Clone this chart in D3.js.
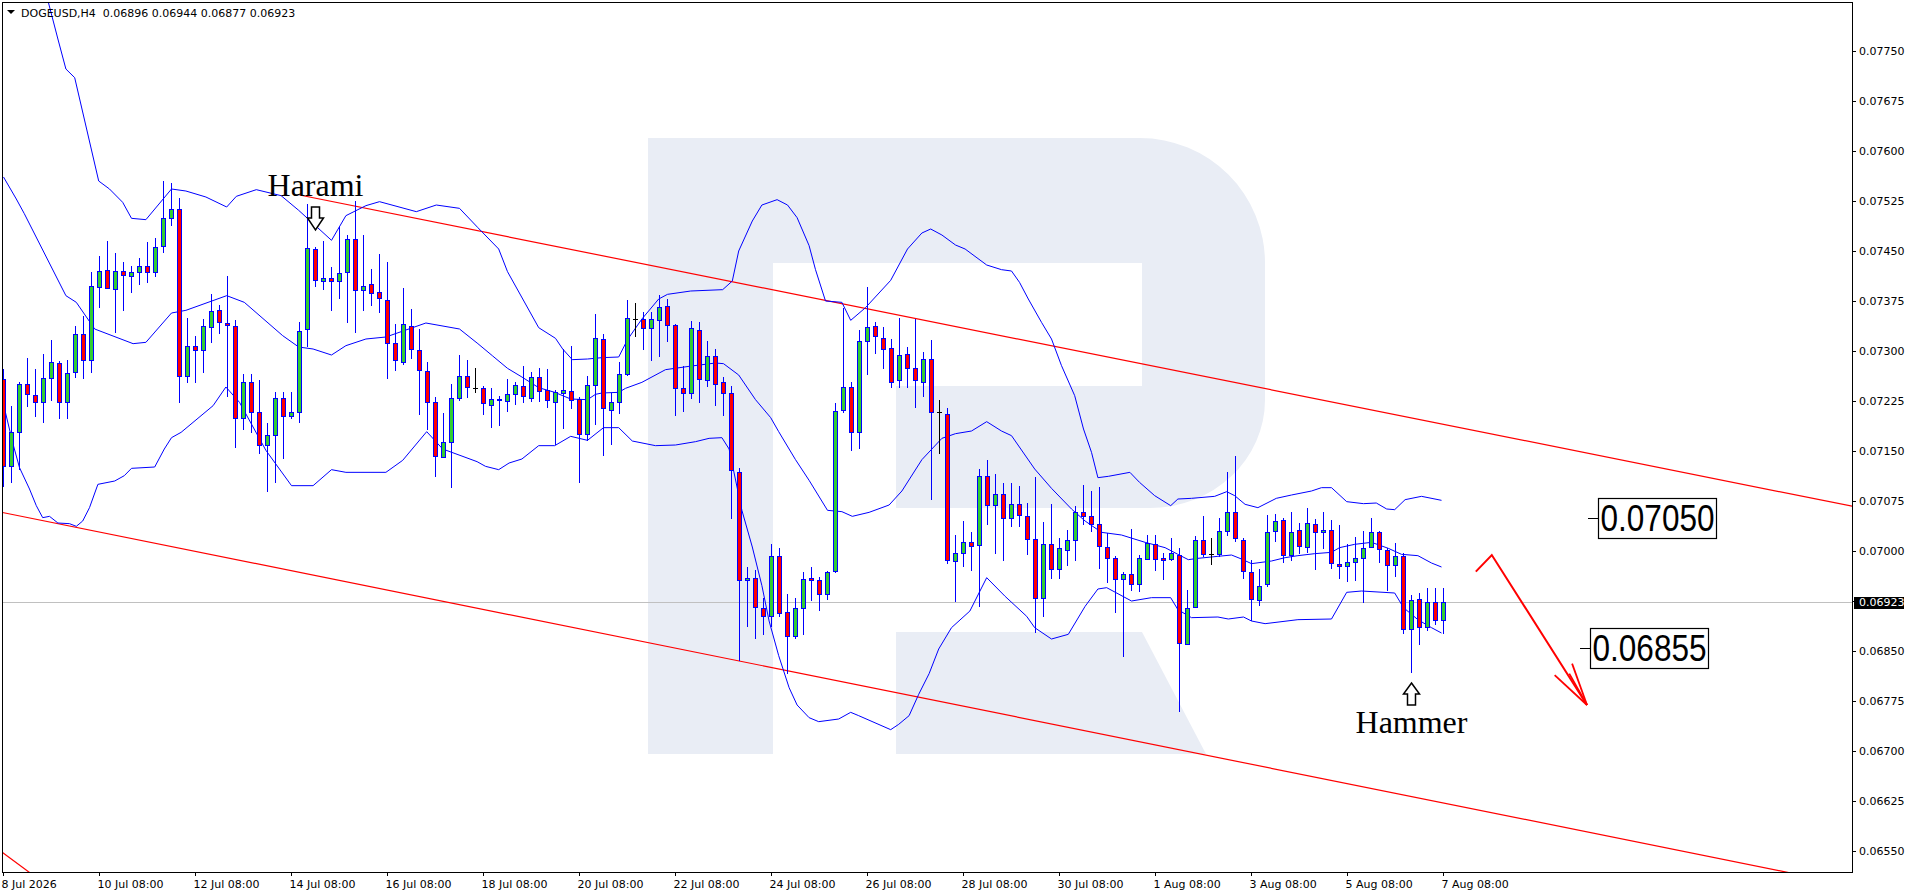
<!DOCTYPE html>
<html><head><meta charset="utf-8">
<script src="https://cdn.jsdelivr.net/npm/d3@7"></script>
<style>
html,body{margin:0;padding:0;background:#fff;overflow:hidden}
svg{display:block}
</style></head><body>
<svg id="c" width="1916" height="896"></svg>
<script>
// ---------- DATA ----------
const symbolHeader = "DOGEUSD,H4  0.06896 0.06944 0.06877 0.06923";
const openP = [
.07258,.07128,.07178,.07250,.07234,.07223,.07259,.07282,.07223,.07268,
.07326,.07286,.07396,.07421,.07393,.07420,.07412,.07418,.07427,.07418,
.07457,.07500,.07513,.07262,.07307,.07301,.07336,.07361,.07342,.07338,
.07200,.07253,.07208,.07159,.07174,.07230,.07203,.07208,.07333,.07453,
.07405,.07409,.07405,.07418,.07468,.07391,.07400,.07388,.07377,.07312,
.07283,.07338,.07301,.07270,.07223,.07141,.07164,.07229,.07263,.07244,
.07244,.07219,.07226,.07225,.07235,.07248,.07229,.07261,.07242,.07224,
.07237,.07240,.07228,.07176,.07249,.07318,.07212,.07224,.07265,.07348,
.07348,.07334,.07347,.07368,.07339,.07244,.07237,.07332,.07257,.07293,
.07253,.07237,.07119,.06957,.06960,.06915,.06903,.06993,.06908,.06872,
.06914,.06960,.06957,.06936,.06970,.07212,.07246,.07178,.07315,.07337,
.07320,.07305,.07256,.07295,.07274,.07253,.07288,.07208,.07206,.06985,
.06997,.07014,.07009,.07112,.07069,.07086,.07050,.07071,.07052,.07018,
.06929,.07010,.06973,.07002,.07017,.07059,.07052,.07041,.07006,.06990,
.06958,.06965,.06950,.06988,.07010,.06989,.06988,.06994,.06860,.06916,
.07016,.06996,.06996,.07030,.07058,.07017,.06969,.06927,.06950,.07030,
.07047,.06994,.07032,.07006,.07041,.07029,.07032,.06980,.06977,.06984,
.06990,.07006,.07029,.07002,.06979,.06992,.06883,.06928,.06886,.06924,
.06896];
const highP = [
.07273,.07218,.07253,.07289,.07273,.07296,.07317,.07285,.07286,.07338,
.07353,.07419,.07442,.07465,.07447,.07433,.07428,.07439,.07463,.07469,
.07555,.07552,.07529,.07349,.07323,.07348,.07386,.07369,.07413,.07347,
.07266,.07266,.07256,.07192,.07239,.07238,.07239,.07343,.07520,.07456,
.07465,.07426,.07486,.07474,.07525,.07474,.07423,.07446,.07433,.07340,
.07394,.07363,.07333,.07283,.07231,.07207,.07251,.07294,.07286,.07274,
.07247,.07245,.07232,.07258,.07253,.07278,.07269,.07274,.07273,.07241,
.07303,.07307,.07231,.07263,.07355,.07325,.07237,.07283,.07377,.07372,
.07358,.07359,.07384,.07378,.07340,.07277,.07345,.07343,.07315,.07303,
.07261,.07248,.07124,.06976,.06972,.06929,.07011,.07005,.06936,.06929,
.06968,.06976,.06961,.06970,.07222,.07364,.07253,.07332,.07396,.07344,
.07336,.07318,.07349,.07306,.07348,.07298,.07317,.07226,.07214,.07024,
.07045,.07028,.07123,.07136,.07115,.07102,.07102,.07098,.07072,.07111,
.07043,.07070,.07019,.07032,.07067,.07099,.07090,.07096,.07027,.06992,
.06969,.07033,.06994,.07024,.07024,.06997,.07020,.07005,.06941,.07022,
.07052,.07020,.07050,.07119,.07143,.07020,.06987,.06973,.07054,.07055,
.07050,.07059,.07042,.07065,.07048,.07058,.07047,.07039,.07010,.07021,
.07030,.07050,.07030,.07005,.07012,.06997,.06934,.06937,.06944,.06944,
.06944];
const lowP = [
.07098,.07103,.07123,.07218,.07203,.07193,.07227,.07199,.07199,.07261,
.07260,.07268,.07366,.07394,.07329,.07361,.07388,.07400,.07403,.07413,
.07448,.07489,.07224,.07254,.07253,.07269,.07314,.07327,.07233,.07156,
.07183,.07179,.07147,.07090,.07103,.07139,.07200,.07193,.07308,.07398,
.07393,.07361,.07380,.07344,.07329,.07362,.07369,.07358,.07260,.07272,
.07280,.07290,.07206,.07183,.07112,.07141,.07096,.07227,.07231,.07238,
.07206,.07186,.07189,.07210,.07220,.07223,.07225,.07225,.07216,.07160,
.07185,.07215,.07104,.07166,.07190,.07144,.07160,.07207,.07264,.07323,
.07303,.07287,.07293,.07315,.07204,.07210,.07229,.07223,.07247,.07219,
.07204,.07049,.06836,.06887,.06870,.06875,.06887,.06903,.06817,.06869,
.06875,.06927,.06911,.06928,.06969,.07208,.07152,.07155,.07266,.07297,
.07274,.07246,.07246,.07246,.07216,.07232,.07078,.07147,.06982,.06925,
.06978,.06971,.06918,.07040,.06997,.06987,.07038,.07037,.06995,.06878,
.06903,.06959,.06959,.06979,.06987,.07040,.07030,.06975,.06953,.06908,
.06842,.06941,.06940,.06988,.06971,.06958,.06987,.06760,.06860,.06916,
.06993,.06980,.06993,.07024,.07015,.06960,.06897,.06919,.06948,.07015,
.06984,.06987,.06997,.06999,.06973,.07005,.06975,.06959,.06955,.06957,
.06923,.07006,.06984,.06942,.06963,.06877,.06819,.06860,.06882,.06890,
.06877];
const closeP = [
.07128,.07178,.07250,.07235,.07223,.07259,.07283,.07223,.07267,.07326,
.07286,.07397,.07420,.07394,.07420,.07414,.07418,.07428,.07418,.07456,
.07500,.07513,.07262,.07308,.07301,.07337,.07360,.07343,.07339,.07199,
.07253,.07208,.07159,.07174,.07230,.07203,.07208,.07330,.07454,.07406,
.07409,.07405,.07417,.07468,.07391,.07398,.07387,.07379,.07312,.07286,
.07340,.07303,.07272,.07223,.07143,.07164,.07229,.07263,.07246,.07244,
.07222,.07228,.07228,.07235,.07249,.07232,.07261,.07240,.07226,.07238,
.07241,.07227,.07175,.07249,.07320,.07214,.07224,.07265,.07349,.07348,
.07334,.07348,.07366,.07339,.07244,.07237,.07334,.07258,.07292,.07251,
.07237,.07121,.06957,.06960,.06916,.06903,.06992,.06907,.06872,.06914,
.06958,.06957,.06936,.06969,.07210,.07246,.07178,.07315,.07336,.07322,
.07303,.07254,.07294,.07275,.07256,.07288,.07208,.07208,.06986,.06997,
.07014,.07007,.07112,.07069,.07086,.07050,.07071,.07054,.07018,.06930,
.07010,.06973,.07004,.07017,.07059,.07052,.07040,.07007,.06990,.06958,
.06965,.06950,.06989,.07012,.06988,.06987,.06997,.06862,.06914,.07016,
.06996,.06996,.07030,.07058,.07019,.06970,.06928,.06948,.07028,.07045,
.06994,.07029,.07007,.07042,.07029,.07032,.06982,.06978,.06984,.06990,
.07005,.07029,.07003,.06979,.06992,.06883,.06927,.06886,.06923,.06897,
.06923];

const xTickIdx = [0,12,24,36,48,60,72,84,96,108,120,132,144,156,168,180];
const xTickLabels = ["8 Jul 2026","10 Jul 08:00","12 Jul 08:00","14 Jul 08:00","16 Jul 08:00","18 Jul 08:00",
  "20 Jul 08:00","22 Jul 08:00","24 Jul 08:00","26 Jul 08:00","28 Jul 08:00","30 Jul 08:00",
  "1 Aug 08:00","3 Aug 08:00","5 Aug 08:00","7 Aug 08:00"];
const yTicks = [0.06550,0.06625,0.06700,0.06775,0.06850,0.06925,0.07000,0.07075,0.07150,
  0.07225,0.07300,0.07375,0.07450,0.07525,0.07600,0.07675,0.07750];
const lastPrice = 0.06923;

// Bollinger bands: [bar index, price]
const bbUpper = [[0,0.0790],[2,0.0791],[4,0.0788],[5.5,0.07828],[6.8,0.07768],[7.8,0.07723],[8.9,0.07710],
[11.9,0.07555],[13.25,0.07543],[14.9,0.07523],[16,0.07499],[17.8,0.07497],[21,0.07543],[22.8,0.07540],
[25.3,0.07531],[27.9,0.07516],[29.1,0.07532],[31.6,0.07542],[34.7,0.07533],[36.9,0.07511],[41,0.07466],
[42.8,0.07503],[45.3,0.07518],[47,0.07524],[51.6,0.07509],[54.1,0.07519],[57,0.07514],[59.3,0.07485],
[61.9,0.07453],[63,0.07419],[66.9,0.07335],[69,0.07319],[69.9,0.07303],[71.1,0.07287],[73,0.07288],
[74.8,0.07290],[76.9,0.07291],[78,0.07317],[79.8,0.07348],[81.9,0.07378],[83,0.07385],[85.9,0.07390],
[89.9,0.07392],[91.1,0.07405],[91.9,0.07450],[93.6,0.07495],[94.8,0.07519],[96.7,0.07527],[98,0.07519],
[99.2,0.07500],[100.7,0.07458],[101.5,0.07422],[102.75,0.07375],[104.8,0.07373],[105.9,0.07346],
[107.75,0.07365],[110.9,0.07406],[113,0.07453],[114.8,0.07477],[115.9,0.07483],[117.3,0.07474],
[119,0.07459],[120.2,0.07453],[122.9,0.07429],[124.75,0.07422],[126,0.07420],[127,0.07403],[128.1,0.07378],
[129.75,0.07343],[131,0.07318],[132.25,0.07278],[133.9,0.07233],[135,0.07183],[136,0.07148],[136.8,0.07110],
[138.1,0.07112],[140.8,0.07118],[142,0.07103],[143.9,0.07083],[145.9,0.07068],[146.8,0.07078],[148.5,0.07079],
[151.4,0.07082],[152.9,0.07089],[153.9,0.07083],[155.2,0.07070],[156.8,0.07065],[159.1,0.07079],[161,0.07084],
[163.5,0.07090],[164.75,0.07095],[166,0.07095],[167.9,0.07074],[170,0.07071],[171.6,0.07072],[172.9,0.07063],
[173.9,0.07062],[175.2,0.07077],[177.25,0.07082],[179.75,0.07076]];
const bbMiddle = [[0,0.07561],[1.6,0.07528],[2.6,0.07506],[7.8,0.07383],[9.1,0.07373],[11.4,0.07333],[16.2,0.07311],
[17.8,0.07313],[21,0.07357],[22.8,0.07361],[27.9,0.07383],[30.1,0.07373],[34.9,0.07323],[36.9,0.07306],
[38.7,0.07303],[41,0.07294],[42.8,0.07308],[45.3,0.07318],[47.8,0.07321],[52.8,0.07342],[57,0.07333],
[59.3,0.07311],[61.1,0.07293],[63,0.07274],[64.8,0.07261],[66.9,0.07245],[68.9,0.07238],[70.9,0.07228],
[73,0.07227],[74,0.07235],[74.8,0.07237],[76.9,0.07238],[77.75,0.07244],[79.8,0.07253],[82.75,0.07272],
[85.7,0.07277],[89,0.07282],[90,0.07281],[91.9,0.07264],[94,0.07227],[95.9,0.07200],[96.9,0.07179],
[99,0.07137],[100.7,0.07106],[103,0.07061],[104.8,0.07059],[106.1,0.07052],[108.2,0.07058],[110.7,0.07069],
[112.3,0.07090],[114.8,0.07137],[117.3,0.07169],[119,0.07176],[121,0.07180],[122.9,0.07194],[124.75,0.07180],
[126,0.07173],[128.9,0.07123],[131,0.07094],[133.5,0.07063],[135.2,0.07045],[137.25,0.07028],[139.75,0.07024],
[142.7,0.07013],[145.2,0.07005],[146.8,0.06995],[148.1,0.06987],[149.3,0.06989],[151.8,0.06992],[153.5,0.06994],
[154.75,0.06988],[156,0.06981],[158.5,0.06985],[160.2,0.06990],[161.8,0.06993],[163.9,0.06996],[166,0.06998],
[167,0.07005],[168.9,0.07010],[171,0.07013],[173.1,0.07004],[174.75,0.06995],[176.8,0.06993],[178.5,0.06982],
[179.75,0.06976]];
const bbLower = [[0,0.0722],[1.2,0.07160],[2,0.07125],[3.25,0.07093],[4.1,0.07068],[4.9,0.07050],[5.75,0.07052],
[6.8,0.07042],[8.25,0.07041],[9.1,0.07037],[9.9,0.07045],[10.75,0.07065],[11.8,0.07100],[13.9,0.07105],
[15.1,0.07113],[16,0.07124],[18.9,0.07126],[20.1,0.07153],[21,0.07170],[22.2,0.07178],[26.2,0.07218],
[27.8,0.07246],[29.5,0.07223],[32.8,0.07151],[36,0.07098],[38.7,0.07098],[41,0.07122],[42.8,0.07118],
[47.8,0.07118],[49.9,0.07136],[52.9,0.07179],[54.9,0.07153],[59.2,0.07134],[60.25,0.07127],[61.9,0.07122],
[63.2,0.07132],[64.8,0.07138],[66.9,0.07158],[68.9,0.07158],[70.9,0.07172],[73,0.07166],[75,0.07185],
[76.9,0.07185],[78.6,0.07165],[81.5,0.07158],[84,0.07159],[86.5,0.07164],[88.2,0.07169],[89.8,0.07170],
[90.7,0.07153],[92.3,0.07061],[93.6,0.07006],[94.8,0.06948],[95.7,0.06895],[96.9,0.06843],[98.2,0.06795],
[99.2,0.06769],[100.7,0.06750],[101.9,0.06744],[104.4,0.06748],[105.9,0.06758],[106.9,0.06753],[110.9,0.06732],
[111.9,0.06740],[113.2,0.06753],[114.4,0.06785],[115.7,0.06816],[116.9,0.06853],[118.5,0.06885],[120.8,0.06910],
[122.9,0.06960],[125.2,0.06932],[127.9,0.06902],[128.9,0.06885],[131,0.06868],[133.1,0.06875],[135.2,0.06917],
[136.8,0.06943],[137.9,0.06945],[141,0.06925],[143.5,0.06930],[145.9,0.06930],[146.8,0.06912],[148.5,0.06900],
[151.8,0.06901],[153.1,0.06898],[155,0.06901],[156,0.06895],[157.7,0.06891],[161.8,0.06897],[166,0.06898],
[167.9,0.06938],[169.75,0.06940],[173.9,0.06937],[175,0.06915],[176.8,0.06897],[178.5,0.06885],[179.75,0.06877]];

// Trend lines (two anchors each: [bar index, price])
const channelUpper = [[37,0.07534],[180,0.07190]];
const channelLower = [[0,0.070575],[180,0.06622]];
const steepLine = [[-0.5,0.06551],[3,0.06520]];
// Forecast arrow
const forecastArrow = [[184.1,0.06969],[186.1,0.06994],[198,0.06769]];
const levelLabels = [0.07050, 0.06855];
const patternNotes = [{text:"Harami", bar:39, dir:"down"},{text:"Hammer", bar:176, dir:"up"}];

// ---------- DRAW ----------
const L=2, T=2, R=1852, B=872;
const svg = d3.select('#c');
const x = d3.scaleLinear().domain([0,180]).range([3,1443]);
const y = d3.scaleLinear().domain([0.0655,0.0775]).range([851,51]);
const FONT = '"DejaVu Sans", Verdana, sans-serif';

svg.append('rect').attr('width',1916).attr('height',896).attr('fill','#fff');
svg.append('defs').append('clipPath').attr('id','plot')
  .append('rect').attr('x',L).attr('y',T).attr('width',R-L).attr('height',B-T);

// watermark
const wm = svg.append('g').attr('fill','#e9edf5');
wm.append('path').attr('d',
  'M648,138 H1140 A125,125 0 0 1 1265,263 V400 A115,108 0 0 1 1150,508 H896 V386 H1142 V263 H773 V754 H648 Z');
wm.append('path').attr('d','M896,632 H1142 L1206,754 H896 Z');

const plot = svg.append('g').attr('clip-path','url(#plot)');

// current price line
const yLast = Math.round(y(lastPrice))+0.5;
plot.append('line').attr('x1',L).attr('x2',R).attr('y1',yLast).attr('y2',yLast)
  .attr('stroke','#c0c0c0').attr('stroke-width',1);

// trend lines helper
function extLine(a, b, i0, i1){
  const s = (b[1]-a[1])/(b[0]-a[0]);
  return [[i0, a[1]+s*(i0-a[0])],[i1, a[1]+s*(i1-a[0])]];
}
const iRight = x.invert(R), iLeft = x.invert(L);
const lineGen = d3.line().x(d=>x(d[0])+0.5).y(d=>y(d[1]));
[ extLine(channelUpper[0],channelUpper[1],channelUpper[0][0],iRight),
  extLine(channelLower[0],channelLower[1],iLeft,iRight),
  extLine(steepLine[0],steepLine[1],iLeft,20) ].forEach(seg=>{
  plot.append('path').attr('d',lineGen(seg)).attr('fill','none').attr('stroke','#ff0000').attr('stroke-width',1.2);
});

// bollinger bands
[bbUpper,bbMiddle,bbLower].forEach(b=>{
  plot.append('path').attr('d',lineGen(b)).attr('fill','none').attr('stroke','#0000ff').attr('stroke-width',1);
});

// candles
const cg = plot.append('g');
d3.range(openP.length).forEach(i=>{
  const cx = x(i)+0.5;
  const yo=Math.round(y(openP[i])), yc=Math.round(y(closeP[i]));
  const yh=Math.round(y(highP[i])), yl=Math.round(y(lowP[i]));
  if (openP[i]===closeP[i]) {
    cg.append('line').attr('x1',cx).attr('x2',cx).attr('y1',yh).attr('y2',yl+1).attr('stroke','#000');
    cg.append('line').attr('x1',cx-2.5).attr('x2',cx+2.5).attr('y1',yo+0.5).attr('y2',yo+0.5).attr('stroke','#000');
    return;
  }
  cg.append('line').attr('x1',cx).attr('x2',cx).attr('y1',yh).attr('y2',yl+1).attr('stroke','#0000ff');
  const top=Math.min(yo,yc), h=Math.max(Math.abs(yo-yc),1);
  cg.append('rect').attr('x',cx-2).attr('y',top+0.5).attr('width',4).attr('height',h)
    .attr('fill', closeP[i]>openP[i] ? '#32cd32' : '#ff0000')
    .attr('stroke','#0000ff').attr('stroke-width',1);
});

// frame
svg.append('rect').attr('x',L+0.5).attr('y',T+0.5).attr('width',R-L).attr('height',B-T)
  .attr('fill','none').attr('stroke','#000').attr('stroke-width',1);

// right axis
const ay = svg.append('g').attr('transform',`translate(${R},0)`)
  .call(d3.axisRight(y).tickValues(yTicks).tickSize(4).tickPadding(3).tickFormat(d3.format('.5f')));
ay.select('.domain').remove();
ay.selectAll('line').attr('stroke','#000');
ay.selectAll('text').attr('font-family',FONT).attr('font-size',11).attr('fill','#000');

// bottom axis
const ax = svg.append('g').attr('transform',`translate(0,${B})`)
  .call(d3.axisBottom(x).tickValues(xTickIdx).tickSize(4).tickFormat((d,k)=>xTickLabels[k]));
ax.select('.domain').remove();
ax.selectAll('line').attr('stroke','#000');
ax.selectAll('text').attr('font-family',FONT).attr('font-size',11).attr('fill','#000')
  .attr('text-anchor','start').attr('x',-2).attr('y',16).attr('dy',0);

// current price tag
svg.append('rect').attr('x',R+2).attr('y',yLast-5.5).attr('width',50).attr('height',12).attr('fill','#000');
svg.append('text').attr('x',R+7).attr('y',yLast).attr('dy','0.36em').attr('font-family',FONT)
  .attr('font-size',11).attr('fill','#fff').text(d3.format('.5f')(lastPrice));

// header
svg.append('path').attr('d','M7,10 H15 L11,14 Z').attr('fill','#000');
svg.append('text').attr('x',21).attr('y',17).attr('font-family',FONT).attr('font-size',11)
  .attr('fill','#000').style('white-space','pre').text(symbolHeader);

// level labels
const levelX = [1598, 1590];
levelLabels.forEach((p,k)=>{
  const yy = Math.round(y(p))+0.5;
  const bx = levelX[k];
  svg.append('line').attr('x1',bx-10).attr('x2',bx).attr('y1',yy).attr('y2',yy).attr('stroke','#000');
  svg.append('rect').attr('x',bx+0.5).attr('y',yy-20).attr('width',118).attr('height',40)
    .attr('fill','#fff').attr('stroke','#000').attr('stroke-width',1.2);
  svg.append('text').attr('x',bx+2.5).attr('y',yy+12.5).attr('font-family','"Liberation Sans", Arial, sans-serif')
    .attr('font-size',36).attr('fill','#000').attr('textLength',114).attr('lengthAdjust','spacingAndGlyphs')
    .text(d3.format('.5f')(p));
});

// forecast arrow
const fa = forecastArrow.map(d=>[x(d[0]), y(d[1])]);
svg.append('path').attr('d',d3.line()(fa)).attr('fill','none').attr('stroke','#ff0000').attr('stroke-width',2);
const tip = fa[2], prev = fa[1];
const ang = Math.atan2(prev[1]-tip[1], prev[0]-tip[0]);
[-0.26, 0.22, 0.05].forEach((da,k)=>{
  const len = k===2 ? 36 : 44;
  svg.append('line').attr('x1',tip[0]).attr('y1',tip[1])
    .attr('x2',tip[0]+len*Math.cos(ang+da)).attr('y2',tip[1]+len*Math.sin(ang+da))
    .attr('stroke','#ff0000').attr('stroke-width',1.8);
});

// pattern notes
patternNotes.forEach(n=>{
  const cx = x(n.bar)+0.5;
  let d, ty;
  if (n.dir==='down') {
    const t0=207, t1=218, t2=230;
    d=`M${cx-4},${t0} H${cx+4} V${t1} H${cx+8} L${cx},${t2} L${cx-8},${t1} H${cx-4} Z`;
    ty = 196;
  } else {
    const t0=683, t1=694, t2=705;
    d=`M${cx},${t0} L${cx+8},${t1} H${cx+4} V${t2} H${cx-4} V${t1} H${cx-8} Z`;
    ty = 733;
  }
  svg.append('path').attr('d',d).attr('fill','#fff').attr('stroke','#000').attr('stroke-width',1.5);
  svg.append('text').attr('x',cx).attr('y',ty).attr('text-anchor','middle')
    .attr('font-family','"Liberation Serif", "Times New Roman", serif').attr('font-size',32)
    .attr('fill','#000').text(n.text);
});
</script>
</body></html>
